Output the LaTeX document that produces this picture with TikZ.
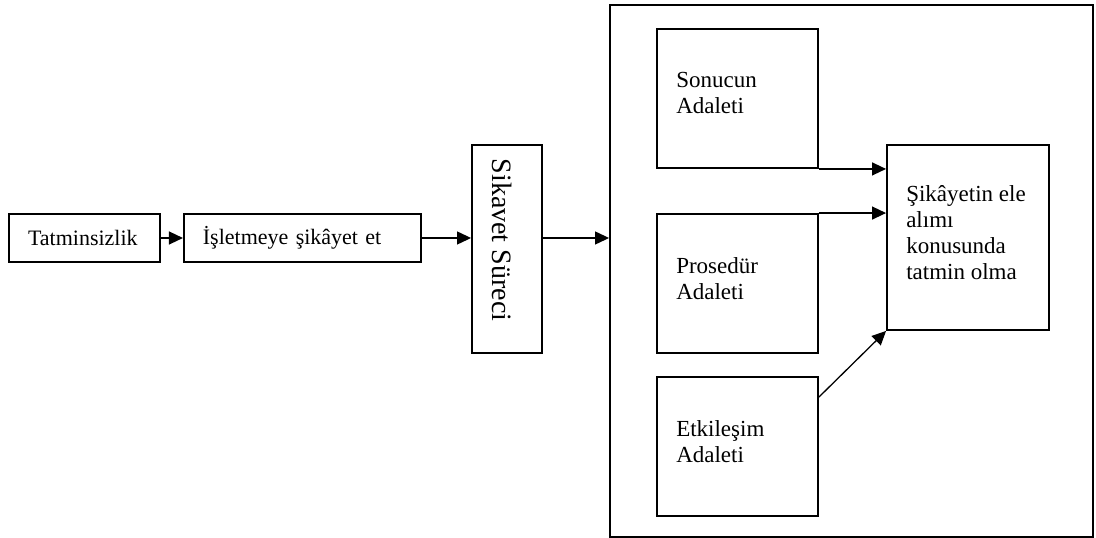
\documentclass[tikz,border=0pt]{standalone}
\usepackage{fontspec}
\setmainfont{Liberation Serif}
\usepackage{tikz}
\usetikzlibrary{arrows.meta,positioning,calc}

\begin{document}
\begin{tikzpicture}[
    x=1pt, y=1pt,
    font=\fontsize{23}{26}\selectfont,
    box/.style={rectangle, draw=black, line width=1.9pt, inner xsep=19pt, inner ysep=0pt, align=left},
    adalet/.style={rectangle, draw=black, line width=1.9pt, minimum width=161pt, minimum height=139pt},
    txt/.style={inner sep=0pt, align=left, anchor=north west},
    arr/.style={-{Triangle[length=14pt,width=13pt]}, line width=1.3pt}
]
\useasboundingbox (0,0) rectangle (1096,538);

% sol taraf
\node[box, text width=113pt, minimum height=48pt, font=\fontsize{22}{26}\selectfont] (tat) at (84.5,300) {Tatminsizlik};
\node[box, text width=199pt, minimum height=48pt, font=\fontsize{22}{26}\selectfont, right=22pt of tat] (isl) {İşletmeye şikâyet et};
\node[rectangle, draw=black, line width=1.9pt, minimum width=70pt, minimum height=208pt] (sur) at (507,289) {};
\node[rotate=-90, inner sep=0pt, font=\fontsize{28}{32}\selectfont] (surtxt) at ([shift={(-5,9)}]sur.center) {Sikavet Süreci};

% sag taraf
\node[rectangle, draw=black, line width=1.9pt, minimum width=483pt, minimum height=532pt] (dis) at (851.5,267) {};
\node[adalet] (son) at (737.5,439.5) {};
\node[adalet] (pro) at (737.5,254.5) {};
\node[adalet] (etk) at (737.5,91.5) {};
\node[rectangle, draw=black, line width=1.9pt, minimum width=162pt, minimum height=185pt] (sik) at (968,300.5) {};

\node[txt] (sontxt) at ([shift={(20,-44)}]son.north west) {Sonucun\\Adaleti};
\node[txt] (protxt) at ([shift={(20,-44)}]pro.north west) {Prosedür\\Adaleti};
\node[txt] (etktxt) at ([shift={(20,-44)}]etk.north west) {Etkileşim\\Adaleti};
\node[txt] (siktxt) at ([shift={(20,-41)}]sik.north west) {Şikâyetin ele\\alımı\\konusunda\\tatmin olma};

\draw[arr] (tat) -- (isl);
\draw[arr] (isl.east) -- (isl.east -| sur.west);
\draw[arr] (sur.east |- isl.east) -- (dis.west |- isl.east);
\draw[arr] (son.south east) -- (son.south east -| sik.west);
\draw[arr] (pro.north east) -- (pro.north east -| sik.west);
\draw[arr] ([yshift=-21pt]etk.north east) -- (sik.south west);
\end{tikzpicture}
\end{document}
